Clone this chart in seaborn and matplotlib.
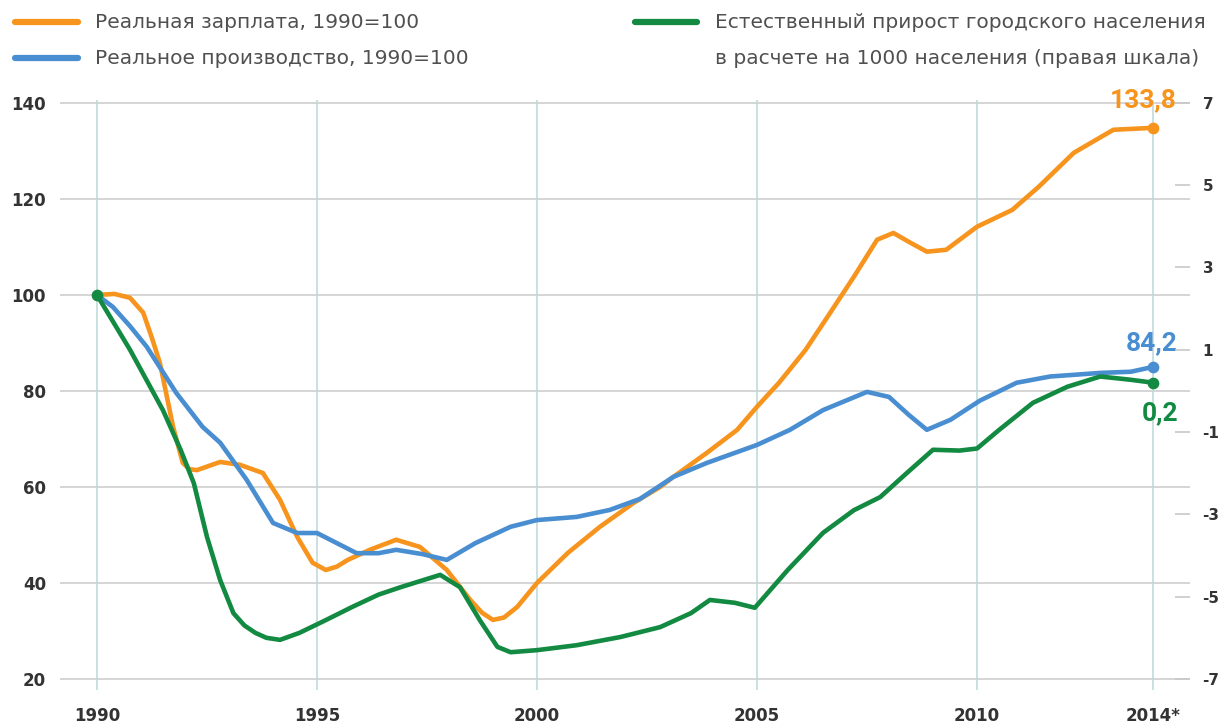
import matplotlib
matplotlib.use("Agg")
import matplotlib.pyplot as plt
from matplotlib.lines import Line2D
import seaborn as sns
import pandas as pd

# ---- data ----
wage_years = [1990.0, 1990.4, 1990.75, 1991.05, 1991.25, 1991.43, 1991.73, 1991.95, 1992.1, 1992.27,
              1992.8, 1993.25, 1993.77, 1994.16, 1994.55, 1994.9, 1995.2, 1995.45, 1995.7, 1996.2,
              1996.8, 1997.34, 1997.95, 1998.48, 1998.75, 1999.0, 1999.25, 1999.55, 2000.0, 2000.7,
              2001.43, 2002.2, 2002.8, 2003.1, 2003.86, 2004.55, 2005.0, 2005.5, 2006.1, 2006.6,
              2007.2, 2007.73, 2008.1, 2008.5, 2008.86, 2009.3, 2010.0, 2010.8, 2011.4, 2012.2,
              2013.1, 2014.0]
wage_vals = [100, 100.2, 99.4, 96.3, 91, 85.8, 72.5, 65, 63.7, 63.5,
             65.2, 64.6, 62.9, 57.3, 49.6, 44.2, 42.7, 43.4, 44.8, 46.9,
             49, 47.5, 42.7, 36.5, 33.8, 32.3, 32.8, 35, 40, 46.25,
             51.7, 56.7, 60, 62.1, 67.1, 71.9, 76.7, 81.7, 88.5, 95.4,
             103.75, 111.5, 112.9, 110.8, 109, 109.4, 114.2, 117.7, 122.5, 129.6,
             134.4, 134.8]

prod_years = [1990.0, 1990.36, 1990.75, 1991.13, 1991.8, 1992.4, 1992.8, 1993.4, 1994.0, 1994.55,
              1995.0, 1995.45, 1995.9, 1996.4, 1996.8, 1997.4, 1997.95, 1998.6, 1999.4, 2000.0,
              2000.9, 2001.65, 2002.34, 2003.1, 2003.86, 2005.0, 2005.75, 2006.5, 2007.5, 2008.0,
              2008.45, 2008.86, 2009.4, 2010.07, 2010.9, 2011.66, 2012.8, 2013.5, 2014.0]
prod_vals = [100, 97.5, 93.5, 89.2, 79.6, 72.5, 69.2, 61.5, 52.5, 50.4,
             50.4, 48.3, 46.2, 46.2, 46.9, 46, 44.8, 48.3, 51.7, 53.1,
             53.75, 55.2, 57.5, 62.1, 65, 68.75, 71.9, 76, 79.8, 78.75,
             75, 71.9, 74, 78, 81.7, 83, 83.75, 84, 85]

pop_years = [1990.0, 1990.75, 1991.5, 1991.9, 1992.2, 1992.5, 1992.8, 1993.1, 1993.35, 1993.6,
             1993.85, 1994.16, 1994.6, 1995.2, 1995.8, 1996.4, 1996.9, 1997.8, 1998.25, 1998.7,
             1999.1, 1999.4, 2000.0, 2000.9, 2001.9, 2002.8, 2003.5, 2003.93, 2004.5, 2004.95,
             2005.7, 2006.5, 2007.2, 2007.8, 2008.4, 2009.0, 2009.6, 2010.0, 2010.5, 2011.27,
             2012.05, 2012.8, 2013.5, 2014.0]
pop_vals = [2.33, 1.0, -0.47, -1.43, -2.24, -3.55, -4.6, -5.4, -5.7, -5.88,
            -6.0, -6.05, -5.88, -5.57, -5.25, -4.95, -4.77, -4.47, -4.77, -5.57,
            -6.22, -6.35, -6.3, -6.18, -5.98, -5.74, -5.4, -5.08, -5.15, -5.27,
            -4.35, -3.45, -2.9, -2.58, -2.0, -1.43, -1.45, -1.4, -0.95, -0.29,
            0.1, 0.35, 0.27, 0.2]

end_labels = ["133,8", "84,2", "0,2"]
x_ticks = [1990, 1995, 2000, 2005, 2010, 2014]
x_tick_labels = ["1990", "1995", "2000", "2005", "2010", "2014*"]
left_ticks = [20, 40, 60, 80, 100, 120, 140]
right_ticks = [-7, -5, -3, -1, 1, 3, 5, 7]
legend_texts = ["Реальная зарплата, 1990=100",
                "Реальное производство, 1990=100",
                "Естественный прирост городского населения",
                "в расчете на 1000 населения (правая шкала)"]

ORANGE = "#f7941d"
BLUE = "#4a8ed2"
GREEN = "#138a42"

sns.set_theme(style="white")
plt.rcParams["font.family"] = ["DejaVu Sans"]

fig = plt.figure(figsize=(12.28, 7.26), dpi=100)
W, H = 1228, 726
ax = fig.add_axes([60 / W, 1 - 690 / H, (1190 - 60) / W, (690 - 100) / H])

ylo, yhi = 17.7, 140.6
ax.set_xlim(1990 - 37 / 44, 2014 + 37 / 44)
ax.set_ylim(ylo, yhi)

# grid
for y in left_ticks:
    ax.axhline(y, color="#d2d2d2", lw=1.3, zorder=0)
ax.set_xticks(x_ticks)
ax.set_xticklabels(x_tick_labels)
ax.grid(axis="x", color="#b9d9d9", lw=1.1, zorder=0)
ax.grid(axis="y", visible=False)
ax.set_yticks(left_ticks)
for s in ax.spines.values():
    s.set_visible(False)
ax.tick_params(axis="both", length=0, labelsize=12, labelcolor="#333333")
ax.tick_params(axis="y", pad=10)
ax.tick_params(axis="x", pad=12)
for lab in ax.get_xticklabels() + ax.get_yticklabels():
    lab.set_fontweight("bold")

df_w = pd.DataFrame({"year": wage_years, "val": wage_vals})
df_p = pd.DataFrame({"year": prod_years, "val": prod_vals})
df_g = pd.DataFrame({"year": pop_years, "val": pop_vals})

lk = dict(lw=3.3, solid_joinstyle="round", solid_capstyle="round", estimator=None, sort=False, legend=False)
sns.lineplot(data=df_w, x="year", y="val", ax=ax, color=ORANGE, zorder=3, **lk)
sns.lineplot(data=df_p, x="year", y="val", ax=ax, color=BLUE, zorder=4, **lk)
ax.set_xlabel("")
ax.set_ylabel("")

# right axis for green series
ax2 = ax.twinx()
conv = lambda v: (v - 80) * 7 / 60
ax2.set_ylim(conv(ylo), conv(yhi))
sns.lineplot(data=df_g, x="year", y="val", ax=ax2, color=GREEN, zorder=5, **lk)
ax2.set_ylabel("")
ax2.set_yticks(right_ticks)
ax2.set_yticklabels([str(t) for t in right_ticks])
for s in ax2.spines.values():
    s.set_visible(False)
ax2.grid(False)
ax2.tick_params(axis="y", direction="in", length=11, width=1.2, color="#c8c8c8",
                labelsize=11, labelcolor="#333333", pad=9)
for lab in ax2.get_yticklabels():
    lab.set_fontweight("bold")

# end points and start point
ax.scatter([wage_years[-1]], [wage_vals[-1]], s=55, color=ORANGE, zorder=6)
ax.scatter([prod_years[-1]], [prod_vals[-1]], s=55, color=BLUE, zorder=6)
ax2.scatter([pop_years[-1], pop_years[0]], [pop_vals[-1], pop_vals[0]], s=55, color=GREEN, zorder=6)

ann = dict(textcoords="offset points", ha="right", va="center", fontsize=19,
           fontweight="bold", family=["Roboto", "DejaVu Sans"])
ax.annotate(end_labels[0], xy=(wage_years[-1], wage_vals[-1]), xytext=(17, 20), color=ORANGE, **ann)
ax.annotate(end_labels[1], xy=(prod_years[-1], prod_vals[-1]), xytext=(18, 17), color=BLUE, **ann)
ax2.annotate(end_labels[2], xy=(pop_years[-1], pop_vals[-1]), xytext=(18, -22), color=GREEN, **ann)

# legend (manual)
def leg_line(x0, x1, y, c):
    fig.add_artist(Line2D([x0 / W, x1 / W], [1 - y / H, 1 - y / H], color=c, lw=4.5,
                          transform=fig.transFigure))

leg_line(15, 78, 22, ORANGE)
leg_line(15, 78, 58, BLUE)
leg_line(635, 697, 22, GREEN)
tk = dict(fontsize=14.5, color="#505050", va="center", ha="left")
fig.text(95 / W, 1 - 22 / H, legend_texts[0], **tk)
fig.text(95 / W, 1 - 58 / H, legend_texts[1], **tk)
fig.text(715 / W, 1 - 22 / H, legend_texts[2], **tk)
fig.text(715 / W, 1 - 58 / H, legend_texts[3], **tk)

fig.savefig("out.png", dpi=100)
